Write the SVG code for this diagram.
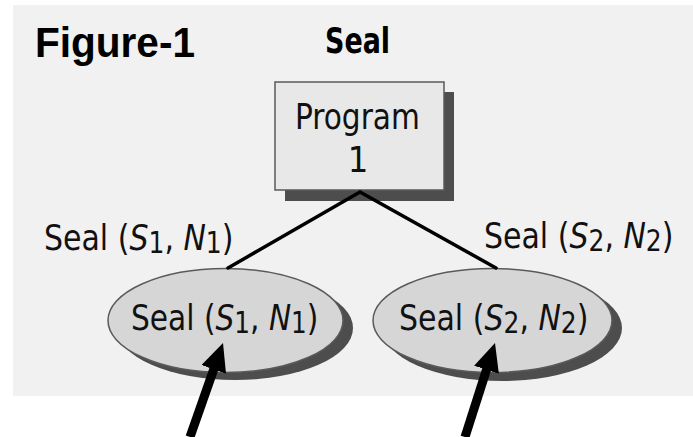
<svg xmlns="http://www.w3.org/2000/svg" width="693" height="437" viewBox="0 0 693 437">
  <style>
    .panel { fill: #f1f1f1; }
    .shadow { fill: #4d4d4d; }
    .box { fill: #e8e8e8; stroke: #5a5a5a; stroke-width: 1.5; }
    .oval { fill: #d6d6d6; stroke: #5a5a5a; stroke-width: 1.5; }
    .edge { stroke: #000; stroke-width: 3.5; fill: none; stroke-linecap: round; }
    .pointer { stroke: #000; stroke-width: 9; fill: none; }
    .title { font-family: "Liberation Sans", Arial, sans-serif; font-weight: bold; fill: #000; }
    .cond { font-family: "Liberation Sans Narrow", "DejaVu Sans Condensed", "Liberation Sans", sans-serif; font-size: 36px; fill: #111; }
    .condb { font-family: "Liberation Sans Narrow", "DejaVu Sans Condensed", "Liberation Sans", sans-serif; font-weight: bold; fill: #000; }
    .it { font-style: italic; }
    .sub { font-size: 30px; }
  </style>
  <defs>
    <marker id="head" viewBox="0 0 28 26" refX="2" refY="13" markerWidth="28" markerHeight="26" markerUnits="userSpaceOnUse" orient="auto">
      <path d="M0,0 L28,13 L0,26 Z" fill="#000"/>
    </marker>
  </defs>

  <!-- background panel -->
  <rect class="panel" x="13" y="5" width="680" height="391"/>

  <text class="title" x="35" y="57" font-size="43" textLength="160" lengthAdjust="spacingAndGlyphs">Figure-1</text>
  <text class="condb" x="325" y="53" font-size="36" textLength="65" lengthAdjust="spacingAndGlyphs">Seal</text>

  <!-- program node -->
  <g id="program">
    <rect class="shadow" x="285" y="92" width="169" height="109"/>
    <rect class="box" x="275" y="82" width="169" height="108"/>
    <text class="cond" transform="translate(295,129) scale(0.915,1)" font-size="37">Program</text>
    <text class="cond" x="358" y="172" font-size="37" text-anchor="middle">1</text>
  </g>

  <!-- sealed results -->
  <g id="seal1">
    <ellipse class="shadow" cx="235" cy="328" rx="118" ry="52"/>
    <ellipse class="oval" cx="225.5" cy="320.5" rx="117.5" ry="52"/>
    <text class="cond" transform="translate(131,330) scale(0.916,1)">Seal (<tspan class="it">S</tspan><tspan class="sub" dy="3">1</tspan><tspan dy="-3">, </tspan><tspan class="it">N</tspan><tspan class="sub" dy="3">1</tspan><tspan dy="-3">)</tspan></text>
  </g>
  <g id="seal2">
    <ellipse class="shadow" cx="502" cy="328" rx="120" ry="53"/>
    <ellipse class="oval" cx="492.5" cy="320.5" rx="119.5" ry="52"/>
    <text class="cond" transform="translate(399,330) scale(0.926,1)">Seal (<tspan class="it">S</tspan><tspan class="sub" dy="3">2</tspan><tspan dy="-3">, </tspan><tspan class="it">N</tspan><tspan class="sub" dy="3">2</tspan><tspan dy="-3">)</tspan></text>
  </g>

  <!-- edge labels -->
  <text class="cond" transform="translate(44,250) scale(0.926,1)">Seal (<tspan class="it">S</tspan><tspan class="sub" dy="3">1</tspan><tspan dy="-3">, </tspan><tspan class="it">N</tspan><tspan class="sub" dy="3">1</tspan><tspan dy="-3">)</tspan></text>
  <text class="cond" transform="translate(484,248) scale(0.926,1)">Seal (<tspan class="it">S</tspan><tspan class="sub" dy="3">2</tspan><tspan dy="-3">, </tspan><tspan class="it">N</tspan><tspan class="sub" dy="3">2</tspan><tspan dy="-3">)</tspan></text>

  <!-- connectors -->
  <g id="connectors">
    <path class="edge" d="M360,192 L228,268"/>
    <path class="edge" d="M360,192 L496,268"/>
    <path class="pointer" d="M190,437 L214.4,367.5" marker-end="url(#head)"/>
    <path class="pointer" d="M465,437 L487.1,367.8" marker-end="url(#head)"/>
  </g>
</svg>
